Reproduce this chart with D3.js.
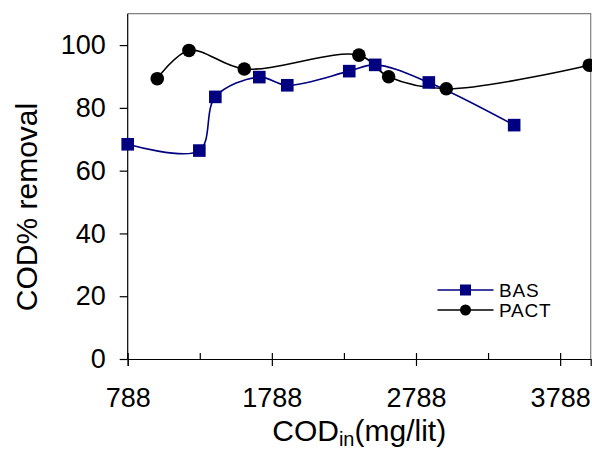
<!DOCTYPE html>
<html>
<head>
<meta charset="utf-8">
<script src="https://cdn.jsdelivr.net/npm/d3@7"></script>
<style>
  body { margin: 0; background: #fff; }
  text { font-family: "Liberation Sans", Arial, sans-serif; }
</style>
</head>
<body>
<div id="chart"></div>
<script>
// series values
const basX = [788, 1285, 1396, 1701, 1895, 2325, 2505, 2877, 3469];
const basY = [68.4, 66.4, 83.5, 89.8, 87.2, 91.7, 93.7, 88.1, 74.5];
const pactX = [993, 1213, 1597, 2392, 2598, 2998, 3990];
const pactY = [89.3, 98.3, 92.4, 96.8, 89.9, 86.1, 93.6];
const seriesNames = ["BAS", "PACT"];
const xMajor = [788, 1788, 2788, 3788];
const xMinor = [1288, 2288, 3288];
const yTicks = [0, 20, 40, 60, 80, 100];

const W = 592, H = 449;
const margin = { top: 13.7, right: 1.3, bottom: 90, left: 127.7 };
const width = W - margin.left - margin.right;
const height = H - margin.top - margin.bottom;

const svgRoot = d3.select("#chart").append("svg")
    .attr("width", W)
    .attr("height", H);
const svg = svgRoot.append("g")
    .attr("transform", `translate(${margin.left},${margin.top})`);

let x = d3.scaleLinear().domain([788, 4000]).range([0, width]);
let y = d3.scaleLinear().domain([0, 110]).range([height, 0]);

// frame (top and right)
svg.append("path")
    .attr("d", `M0,0H${width}V${height}`)
    .attr("fill", "none")
    .attr("stroke", "#808080")
    .attr("stroke-width", 1.2);

// x axis: labels + outside ticks on major values
let xAxis = svg.append("g")
    .attr("transform", `translate(0,${height})`)
    .call(d3.axisBottom(x).tickValues(xMajor).tickSize(7).tickFormat(d3.format("d")));
xAxis.selectAll("text")
    .attr("y", 29).attr("dy", "0.71em")
    .attr("font-size", 27)
    .attr("fill", "#000");
// inside ticks on every value
svg.append("g")
    .attr("transform", `translate(0,${height})`)
    .call(d3.axisTop(x).tickValues(xMajor.concat(xMinor)).tickSize(6).tickFormat(""))
    .select(".domain").remove();

let yAxis = svg.append("g")
    .call(d3.axisLeft(y).tickValues(yTicks).tickSize(8).tickPadding(14));
yAxis.select(".domain").attr("d", `M0,0V${height}`);
yAxis.selectAll("text").attr("font-size", 27).attr("fill", "#000");
svg.selectAll(".domain, .tick line").attr("stroke", "#000").attr("stroke-width", 1.2);

// axis titles
svg.append("text")
    .attr("transform", `translate(${37 - margin.left},${207 - margin.top}) rotate(-90)`)
    .attr("text-anchor", "middle")
    .attr("font-size", 30)
    .text("COD% removal");

let xt = svg.append("text")
    .attr("x", width / 2)
    .attr("y", 441 - margin.top)
    .attr("text-anchor", "middle")
    .attr("font-size", 30);
xt.append("tspan").text("COD");
xt.append("tspan").attr("font-size", 20).attr("dy", 5).text("in");
xt.append("tspan").attr("dy", -5).text("(mg/lit)");

// lines
const bas = basX.map((v, i) => ({ x: v, y: basY[i] }));
const pact = pactX.map((v, i) => ({ x: v, y: pactY[i] }));

let line = d3.line()
    .x(d => x(d.x))
    .y(d => y(d.y))
    .curve(d3.curveCatmullRom.alpha(0.5));

svg.append("path").datum(pact)
    .attr("fill", "none").attr("stroke", "#000").attr("stroke-width", 1.6)
    .attr("d", line);
svg.append("path").datum(bas)
    .attr("fill", "none").attr("stroke", "#000080").attr("stroke-width", 1.6)
    .attr("d", line);

svg.selectAll(".pact").data(pact).enter().append("circle")
    .attr("cx", d => x(d.x)).attr("cy", d => y(d.y))
    .attr("r", 6.8).attr("fill", "#000");
svg.selectAll(".bas").data(bas).enter().append("rect")
    .attr("x", d => x(d.x) - 6.3).attr("y", d => y(d.y) - 6.3)
    .attr("width", 12.6).attr("height", 12.6).attr("fill", "#000080");

// legend
let lg = svgRoot.append("g");
const lgY = [290, 310];
const lgColor = ["#000080", "#000"];
seriesNames.forEach((name, i) => {
    lg.append("line")
        .attr("x1", 437.5).attr("x2", 493.5)
        .attr("y1", lgY[i]).attr("y2", lgY[i])
        .attr("stroke", lgColor[i]).attr("stroke-width", 1.6);
    if (i === 0) {
        lg.append("rect").attr("x", 460).attr("y", lgY[i] - 5.5)
            .attr("width", 11).attr("height", 11).attr("fill", lgColor[i]);
    } else {
        lg.append("circle").attr("cx", 465.5).attr("cy", lgY[i])
            .attr("r", 5.5).attr("fill", lgColor[i]);
    }
    lg.append("text")
        .attr("x", 499).attr("y", lgY[i] + 6.5)
        .attr("font-size", 19)
        .attr("letter-spacing", 0.8)
        .text(name);
});
</script>
</body>
</html>
